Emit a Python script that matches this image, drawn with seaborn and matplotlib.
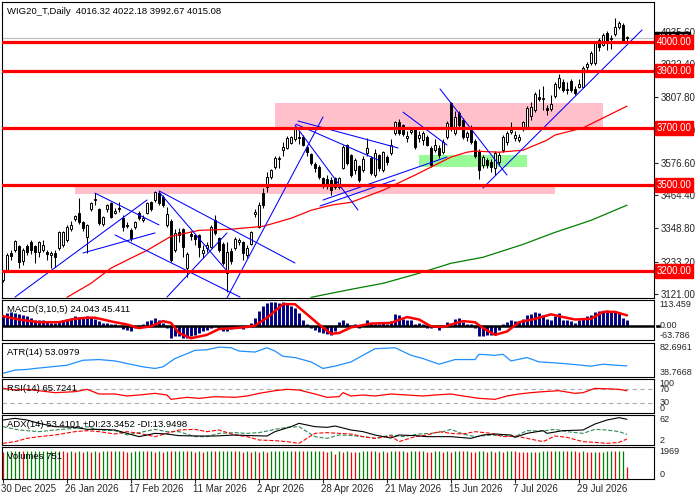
import numpy as np
import matplotlib
matplotlib.use("Agg")
import matplotlib.pyplot as plt
import seaborn as sns
from matplotlib.patches import Rectangle

title = "WIG20_T,Daily  4016.32 4022.18 3992.67 4015.08"

# daily candles, one per trading day
opens = [3170, 3202, 3262, 3272, 3286, 3236, 3286, 3300, 3286, 3265, 3272, 3267, 3255, 3262, 3280, 3290, 3307, 3345, 3381, 3402,
         3370, 3318, 3416, 3447, 3416, 3363, 3416, 3437, 3402, 3419, 3385, 3362, 3342, 3353, 3402, 3377, 3402, 3440, 3447, 3472,
         3458, 3360, 3374, 3272, 3335, 3346, 3210, 3328, 3325, 3325, 3262, 3280, 3283, 3377, 3315, 3293, 3192, 3270, 3280, 3300,
         3300, 3255, 3293, 3398, 3353, 3472, 3493, 3528, 3563, 3590, 3622, 3630, 3647, 3661, 3668, 3668, 3633, 3608, 3573, 3563,
         3524, 3520, 3517, 3524, 3493, 3560, 3640, 3605, 3552, 3566, 3552, 3612, 3595, 3535, 3605, 3552, 3598, 3612, 3682, 3720,
         3710, 3665, 3685, 3696, 3665, 3657, 3668, 3630, 3622, 3630, 3615, 3668, 3787, 3682, 3752, 3727, 3668, 3700, 3655, 3620,
         3570, 3587, 3580, 3560, 3580, 3622, 3650, 3685, 3665, 3657, 3700, 3700, 3742, 3762, 3808, 3800, 3770, 3766, 3811, 3843,
         3860, 3836, 3864, 3836, 3843, 3843, 3913, 3927, 3927, 4007, 3990, 4032, 4012, 4028, 4053, 4060, 4016.32]
highs = [3200, 3262, 3275, 3308, 3290, 3280, 3295, 3310, 3290, 3305, 3307, 3275, 3270, 3272, 3340, 3340, 3360, 3375, 3395, 3455,
         3375, 3365, 3440, 3472, 3420, 3392, 3435, 3440, 3420, 3440, 3395, 3370, 3350, 3375, 3410, 3395, 3440, 3445, 3480, 3478,
         3465, 3423, 3380, 3345, 3350, 3350, 3265, 3340, 3330, 3330, 3290, 3300, 3360, 3395, 3320, 3300, 3300, 3280, 3320, 3315,
         3305, 3290, 3340, 3415, 3440, 3490, 3545, 3555, 3600, 3600, 3650, 3670, 3672, 3705, 3690, 3675, 3640, 3612, 3580, 3570,
         3530, 3535, 3530, 3528, 3530, 3640, 3645, 3610, 3595, 3570, 3600, 3665, 3600, 3625, 3610, 3620, 3605, 3660, 3725, 3730,
         3715, 3690, 3700, 3700, 3690, 3690, 3675, 3635, 3660, 3640, 3660, 3725, 3790, 3760, 3760, 3735, 3690, 3710, 3660, 3625,
         3605, 3595, 3590, 3620, 3615, 3675, 3690, 3720, 3690, 3680, 3725, 3775, 3790, 3825, 3836, 3845, 3780, 3815, 3860, 3888,
         3870, 3860, 3870, 3845, 3870, 3915, 3930, 3970, 4000, 4015, 4030, 4040, 4025, 4085, 4075, 4065, 4022.18]
lows = [3160, 3195, 3240, 3268, 3210, 3220, 3255, 3260, 3227, 3250, 3265, 3240, 3210, 3215, 3275, 3285, 3300, 3340, 3375, 3365,
        3340, 3262, 3410, 3430, 3360, 3358, 3405, 3385, 3398, 3405, 3340, 3350, 3305, 3345, 3378, 3372, 3398, 3410, 3442, 3432,
        3425, 3355, 3232, 3268, 3300, 3248, 3178, 3310, 3290, 3250, 3245, 3265, 3280, 3325, 3265, 3220, 3125, 3225, 3275, 3290,
        3240, 3245, 3290, 3390, 3350, 3420, 3475, 3520, 3555, 3560, 3600, 3625, 3642, 3655, 3645, 3635, 3600, 3570, 3545, 3520,
        3490, 3485, 3465, 3485, 3485, 3555, 3570, 3530, 3540, 3510, 3545, 3600, 3535, 3530, 3550, 3545, 3570, 3605, 3675, 3675,
        3672, 3650, 3680, 3625, 3650, 3640, 3635, 3565, 3615, 3595, 3610, 3660, 3690, 3675, 3700, 3660, 3655, 3645, 3595, 3522,
        3560, 3560, 3545, 3535, 3570, 3615, 3640, 3680, 3655, 3650, 3690, 3695, 3727, 3755, 3795, 3762, 3745, 3760, 3805, 3835,
        3825, 3820, 3825, 3815, 3840, 3838, 3900, 3920, 3920, 3970, 3985, 3972, 3975, 4020, 4045, 4000, 3992.67]
closes = [3195, 3255, 3252, 3304, 3232, 3272, 3268, 3272, 3265, 3300, 3290, 3260, 3262, 3250, 3335, 3335, 3353, 3362, 3392, 3370,
          3350, 3360, 3437, 3452, 3367, 3388, 3430, 3388, 3410, 3416, 3353, 3358, 3315, 3370, 3384, 3384, 3437, 3416, 3475, 3437,
          3430, 3398, 3237, 3332, 3325, 3283, 3258, 3322, 3311, 3283, 3272, 3290, 3353, 3332, 3272, 3227, 3265, 3234, 3311, 3308,
          3262, 3280, 3335, 3405, 3430, 3430, 3528, 3552, 3595, 3595, 3633, 3665, 3668, 3700, 3665, 3640, 3615, 3577, 3560, 3528,
          3500, 3500, 3482, 3493, 3524, 3633, 3577, 3535, 3587, 3517, 3590, 3630, 3542, 3612, 3560, 3615, 3580, 3640, 3720, 3682,
          3678, 3672, 3692, 3633, 3675, 3682, 3640, 3570, 3640, 3605, 3650, 3717, 3700, 3738, 3710, 3668, 3682, 3650, 3600, 3552,
          3598, 3570, 3563, 3612, 3605, 3668, 3682, 3692, 3675, 3668, 3720, 3770, 3773, 3818, 3801, 3804, 3762, 3783, 3853, 3874,
          3832, 3832, 3832, 3822, 3853, 3910, 3923, 3962, 3997, 3983, 4025, 4000, 4015, 4053, 4067, 4005, 4015.08]
volumes = [1690, 1702, 1711, 1718, 1725, 1698, 1704, 1709, 1713, 1716, 1720, 1723, 1727, 1730, 1734, 1702, 1685, 1706, 1688, 1710,
           1692, 1708, 1681, 1704, 1690, 1701, 1715, 1693, 1705, 1719, 1697, 1680, 1692, 1703, 1712, 1721, 1699, 1710, 1687, 1706,
           1691, 1709, 1694, 1703, 1712, 1724, 1700, 1711, 1689, 1707, 1690, 1702, 1714, 1693, 1700, 1708, 1716, 1725, 1701, 1713,
           1692, 1709, 1688, 1704, 1690, 1706, 1686, 1697, 1704, 1711, 1717, 1722, 1728, 1703, 1712, 1694, 1701, 1708, 1715, 1722,
           1700, 1689, 1702, 1560, 1695, 1680, 1703, 1690, 1678, 1691, 1702, 1714, 1696, 1708, 1690, 1706, 1688, 1699, 1712, 1694,
           1707, 1689, 1700, 1713, 1695, 1709, 1692, 1681, 1694, 1706, 1690, 1704, 1687, 1698, 1711, 1693, 1706, 1691, 1679, 1693,
           1705, 1688, 1702, 1686, 1700, 1684, 1697, 1710, 1698, 1687, 1676, 1665, 1682, 1670, 1686, 1699, 1711, 1694, 1705, 1714,
           1722, 1700, 1711, 1695, 1683, 1698, 1686, 1674, 1690, 1678, 1692, 1704, 1715, 1697, 1708, 1719, 751]

# moving averages (read at a few bars)
red_ma_bar = [16, 22, 27, 32, 36, 42, 49, 57, 65, 72, 77, 82, 87, 95, 103, 112, 116, 118, 124, 130, 136, 138, 145, 156]
red_ma = [3108, 3157, 3210, 3245, 3272, 3321, 3342, 3346, 3356, 3384, 3412, 3430, 3440, 3482, 3535, 3598, 3615, 3619,
          3615, 3622, 3657, 3675, 3700, 3776]
green_ma_bar = [77, 87, 95, 103, 112, 120, 130, 138, 147, 156]
green_ma = [3108, 3136, 3157, 3188, 3227, 3248, 3293, 3335, 3377, 3430]

# horizontal levels, zones and trend lines
levels = [4000, 3900, 3700, 3500, 3200]
last_price = 4015.08
price_ticks = [4035.60, 3922.40, 3807.80, 3693.00, 3576.60, 3464.40, 3348.80, 3233.20, 3121.00]
zone_bar0 = [68, 18, 104]
zone_bar1 = [150, 138, 131]
zone_lo = [3700, 3470, 3563]
zone_hi = [3787, 3500, 3605]
trend_bar0 = [3, 23, 20, 28, 39, 39, 41, 56, 73.75, 73.25, 73, 80, 79.25, 100, 109.25, 120]
trend_px0 = [3109, 3472, 3263, 3326, 3480, 3476, 3109, 3106, 3724, 3713, 3710, 3448, 3427, 3755, 3836, 3490]
trend_bar1 = [36, 39, 38, 59.25, 73, 56.25, 56, 80, 98.75, 93.75, 88.75, 111, 98, 111, 126, 159.75]
trend_px1 = [3448, 3361, 3333, 3109, 3228, 3196, 3333, 3738, 3630, 3588, 3413, 3598, 3518, 3640, 3535, 4042]

# MACD(3,10,5)
macd_main = [42, 57, 61, 57, 50, 45, 42, 35, 27, 27, 24, 20, 12, 12, 15, 27, 30, 35, 42, 38,
             35, 42, 39, 30, 20, 12, 12, 9, 5, 0, -15, -18, -26, -11, -6, 5, 20, 27, 35, 24,
             12, -11, -56, -48, -48, -56, -56, -48, -41, -33, -26, -21, -11, -3, -15, -26, -26, -15, -6, -11,
             -15, -6, 12, 35, 65, 85, 98, 106, 103, 100, 103, 95, 88, 76, 57, 27, 9, -11, -21, -30,
             -33, -36, -41, -26, 15, 24, 12, 0, 9, -11, 9, 27, 12, 9, 9, 12, 5, 20, 50, 45,
             30, 27, 27, 9, 12, 5, -11, -11, -6, -18, -6, 15, 12, 30, 35, 15, 9, 5, -11, -48,
             -45, -41, -41, -41, -18, 9, 15, 24, 20, 15, 30, 45, 50, 61, 57, 45, 30, 27, 42, 54,
             27, 27, 20, 12, 27, 35, 42, 45, 61, 65, 65, 70, 65, 61, 57, 35, 24.043]
macd_sig_bar = [0, 4, 9, 14, 18, 21, 23, 28, 31, 34, 37, 40, 42, 44, 47, 51, 54, 58, 61, 63, 66, 70, 73, 76,
                79, 82, 84, 87, 92, 97, 101, 104, 107, 110, 115, 118, 120, 123, 126, 129, 133, 137, 140, 143,
                147, 150, 153, 156]
macd_sig = [42, 27, 15, 15, 30, 35, 35, 15, 5, -11, -3, 20, 12, -33, -56, -41, -15, -11, -6, 0, 35, 95, 95, 50,
            5, -36, -33, -8, 9, 12, 38, 27, -3, -6, 20, 15, -11, -41, -26, 15, 30, 50, 38, 27,
            30, 61, 61, 45.411]

# ATR(14)
atr_bar = [0, 3, 6, 8, 12, 16, 20, 24, 28, 31, 35, 38, 40, 43, 45, 48, 51, 54, 57, 59, 63, 66, 68, 70, 73,
           77, 80, 83, 87, 90, 93, 98, 102, 105, 109, 113, 118, 119, 123, 125, 127, 131, 134, 138, 142,
           147, 150, 153, 156]
atr = [43.5, 47.7, 48.6, 49.8, 51.9, 54.0, 60.4, 61.3, 59.5, 56.2, 51.9, 49.8, 51.9, 62.6, 66.8, 73.2, 74.0,
       77.4, 76.6, 72.3, 71.0, 76.6, 72.3, 65.5, 63.9, 58.3, 49.8, 52.8, 58.3, 66.8, 75.3, 76.6, 66.8, 62.6,
       55.3, 61.3, 61.3, 68.1, 66.8, 68.1, 59.5, 63.9, 58.3, 57.0, 55.3, 52.8, 55.3, 54.0, 53.0979]

# RSI(14)
rsi_bar = [0, 3, 6, 9, 13, 18, 21, 24, 28, 31, 34, 38, 41, 42, 46, 49, 53, 58, 61, 64, 68, 71, 74, 78, 81,
           84, 85, 87, 90, 93, 97, 101, 105, 108, 112, 115, 119, 123, 126, 129, 132, 135, 139, 143, 145,
           148, 152, 154, 156]
rsi = [72.5, 67.6, 69.6, 65.6, 59.8, 62.7, 69.6, 55.9, 55.9, 50.0, 52.9, 57.8, 52.9, 40.2, 46.1, 43.1, 48.0,
       46.1, 50.0, 57.8, 65.6, 69.6, 67.6, 55.9, 46.1, 48.0, 59.8, 50.0, 52.9, 50.0, 55.9, 52.9, 50.0, 52.9,
       55.9, 50.0, 43.1, 40.2, 50.0, 55.9, 59.8, 62.7, 65.6, 57.8, 59.8, 72.5, 70.6, 69.6, 65.7241]

# ADX(14) with +DI / -DI
adx_bar = [0, 3, 6, 9, 13, 18, 21, 24, 28, 31, 34, 38, 41, 44, 49, 53, 58, 62, 66, 68, 72, 74, 78, 81, 83,
           87, 90, 93, 97, 99, 103, 106, 112, 117, 120, 123, 127, 128, 131, 135, 136, 140, 145, 148, 151,
           154, 156]
adx = [52.0, 55.3, 52.0, 45.3, 38.7, 37.3, 33.3, 33.3, 32.0, 25.3, 18.7, 25.3, 24.0, 20.7, 20.0, 20.0, 22.0,
       20.7, 20.0, 28.7, 38.7, 45.3, 38.7, 37.3, 40.0, 32.0, 28.7, 22.0, 16.0, 22.0, 20.7, 18.7, 18.7, 15.3,
       22.0, 24.0, 22.0, 17.3, 25.3, 30.7, 25.3, 30.7, 32.0, 44.0, 52.0, 56.7, 53.4101]
pdi_bar = [0, 4, 9, 13, 18, 21, 24, 28, 31, 34, 38, 41, 44, 48, 51, 54, 58, 61, 64, 68, 71, 74, 78, 81, 84,
           87, 90, 93, 97, 100, 104, 107, 110, 112, 115, 118, 122, 125, 128, 131, 135, 138, 141, 145, 148,
           151, 154, 156]
pdi = [38.7, 32.0, 28.7, 32.0, 35.3, 38.7, 32.0, 30.7, 22.0, 26.7, 33.3, 28.7, 28.7, 18.7, 18.7, 25.3, 26.7,
       25.3, 26.7, 33.3, 37.3, 38.7, 18.7, 15.3, 22.0, 21.0, 18.7, 15.3, 22.0, 18.7, 24.0, 25.3, 28.7, 33.3,
       24.0, 18.7, 22.0, 20.7, 18.7, 30.7, 30.0, 33.3, 28.7, 25.3, 33.3, 32.0, 28.7, 23.3452]
mdi_bar = [0, 3, 6, 9, 13, 18, 21, 24, 28, 31, 34, 38, 41, 44, 48, 51, 54, 58, 61, 64, 68, 71, 74, 78, 81,
           84, 87, 90, 93, 97, 99, 103, 106, 109, 112, 115, 118, 122, 125, 128, 131, 135, 138, 141, 145,
           148, 151, 154, 156]
mdi = [5.3, 8.7, 15.3, 18.7, 22.0, 28.7, 30.7, 28.7, 24.0, 28.7, 25.3, 18.7, 25.3, 32.0, 33.3, 28.7, 32.0,
       22.0, 18.7, 12.0, 10.7, 8.7, 5.3, 25.3, 26.7, 25.3, 24.0, 18.7, 15.3, 20.0, 8.7, 18.7, 22.0, 28.7,
       25.3, 24.0, 28.7, 25.3, 18.7, 20.0, 15.3, 8.7, 20.0, 17.3, 8.7, 7.3, 5.3, 7.3, 13.9498]

date_bars = [0, 16, 32, 48, 64, 80, 96, 112, 128, 144]
date_labels = ["30 Dec 2025", "26 Jan 2026", "17 Feb 2026", "11 Mar 2026", "2 Apr 2026",
               "28 Apr 2026", "21 May 2026", "15 Jun 2026", "7 Jul 2026", "29 Jul 2026"]

sns.set_style("white")
plt.rcParams["font.family"] = ["Liberation Sans", "DejaVu Sans"]
FS = 6.5

fig = plt.figure(figsize=(7, 5), dpi=100, facecolor="white")


def pane(top, bottom):
    ax = fig.add_axes([2 / 700, 1 - bottom / 500, 652 / 700, (bottom - top) / 500])
    ax.set_xlim(-0.25, 162.75)
    ax.set_xticks([])
    ax.set_yticks([])
    for s in ax.spines.values():
        s.set_color("black")
        s.set_linewidth(0.8)
    return ax


def corner_label(ax, text):
    ax.annotate(text, xy=(0, 1), xycoords="axes fraction", xytext=(3.6, -6.5),
                textcoords="offset points", ha="left", va="center", fontsize=FS + 0.3, color="black")


def side_label(ax, value, text, va):
    ax.text(1.008, value, text, transform=ax.get_yaxis_transform(), ha="left", va=va,
            fontsize=FS, clip_on=False)


bars = np.arange(len(closes))
o = np.array(opens)
c = np.array(closes)

# ---- main price pane
ax = pane(2, 298)
ax.set_ylim(3105.7, 4139.7)
for b0, b1, lo, hi, col in zip(zone_bar0, zone_bar1, zone_lo, zone_hi, ["pink", "pink", "palegreen"]):
    ax.add_patch(Rectangle((b0, lo), b1 - b0, hi - lo, facecolor=col, edgecolor="none", zorder=1))
ax.axhline(last_price, color="#c0c0c0", lw=0.9, zorder=1.5)
ax.vlines(bars, lows, highs, color="black", lw=0.75, zorder=3)
up = c >= o
ax.bar(bars, np.abs(c - o), bottom=np.minimum(o, c), width=0.72,
       color=np.where(up, "white", "black"), edgecolor="black", linewidth=0.7, zorder=3.5)
sns.lineplot(x=red_ma_bar, y=red_ma, ax=ax, color="red", linewidth=0.9, zorder=4)
sns.lineplot(x=green_ma_bar, y=green_ma, ax=ax, color="green", linewidth=0.9, zorder=4)
for b0, p0, b1, p1 in zip(trend_bar0, trend_px0, trend_bar1, trend_px1):
    ax.plot([b0, b1], [p0, p1], color="blue", lw=0.75, zorder=5)
for lv in levels:
    ax.axhline(lv, color="red", lw=2.3, zorder=6)
    ax.text(1.004, lv, f"{lv:.2f}", transform=ax.get_yaxis_transform(), ha="left", va="center",
            color="white", fontsize=FS + 0.5, clip_on=False, zorder=8,
            bbox=dict(boxstyle="square,pad=0.18", fc="red", ec="red"))
ax.text(1.004, last_price, f"{last_price:.2f}", transform=ax.get_yaxis_transform(), ha="left",
        va="center", color="white", fontsize=FS, clip_on=False, zorder=7,
        bbox=dict(boxstyle="square,pad=0.15", fc="black", ec="black"))
ax.yaxis.tick_right()
ax.set_yticks(price_ticks)
ax.set_yticklabels([f"{v:.2f}" for v in price_ticks])
ax.tick_params(axis="y", right=True, length=3, width=0.8, labelsize=FS + 0.5, pad=2, direction="out")
ax.set_xlim(-0.25, 162.75)
ax.set_xlabel("")
ax.set_ylabel("")
corner_label(ax, title)

# ---- MACD
ax = pane(300, 340)
ax.vlines(bars, 0, macd_main, color="#000080", lw=2.1, capstyle="butt", zorder=2)
ax.axhline(0, color="black", lw=1.8, zorder=3)
sns.lineplot(x=macd_sig_bar, y=macd_sig, ax=ax, color="red", linewidth=1.8, zorder=4)
ax.set_ylim(-63.786, 113.459)
ax.set_xlim(-0.25, 162.75)
ax.set_xlabel("")
ax.set_ylabel("")
corner_label(ax, "MACD(3,10,5) 24.043 45.411")
side_label(ax, 113.459, "113.459", "top")
side_label(ax, 0, "0.00", "center")
side_label(ax, -63.786, "-63.786", "bottom")
ax.add_patch(Rectangle((1.002, -9), 0.009, 18, transform=ax.get_yaxis_transform(),
                       facecolor="black", clip_on=False))

# ---- ATR
ax = pane(343, 377)
sns.lineplot(x=atr_bar, y=atr, ax=ax, color="#1e90ff", linewidth=0.9)
ax.set_ylim(38.7668, 82.6961)
ax.set_xlim(-0.25, 162.75)
ax.set_xlabel("")
ax.set_ylabel("")
corner_label(ax, "ATR(14) 53.0979")
side_label(ax, 82.6961, "82.6961", "top")
side_label(ax, 38.7668, "38.7668", "bottom")

# ---- RSI
ax = pane(379, 413)
for lv in (70, 30):
    ax.axhline(lv, color="#b0b0b0", lw=0.8, ls=(0, (4, 3)))
sns.lineplot(x=rsi_bar, y=rsi, ax=ax, color="red", linewidth=0.9)
ax.set_ylim(0, 100)
ax.set_xlim(-0.25, 162.75)
ax.set_xlabel("")
ax.set_ylabel("")
corner_label(ax, "RSI(14) 65.7241")
side_label(ax, 100, "100", "top")
side_label(ax, 70, "70", "center")
side_label(ax, 30, "30", "center")
side_label(ax, 0, "0", "bottom")

# ---- ADX
ax = pane(415, 445)
sns.lineplot(x=pdi_bar, y=pdi, ax=ax, color="#2e8b57", linewidth=0.8, linestyle="--")
sns.lineplot(x=mdi_bar, y=mdi, ax=ax, color="red", linewidth=0.8, linestyle="--")
sns.lineplot(x=adx_bar, y=adx, ax=ax, color="black", linewidth=0.8)
ax.set_ylim(2, 62)
ax.set_xlim(-0.25, 162.75)
ax.set_xlabel("")
ax.set_ylabel("")
corner_label(ax, "ADX(14) 53.4101 +DI:23.3452 -DI:13.9498")
side_label(ax, 62, "62", "top")
side_label(ax, 2, "2", "bottom")

# ---- Volumes
ax = pane(447, 479)
vol = np.array(volumes)
vol_up = np.r_[False, vol[1:] > vol[:-1]]
ax.vlines(bars, 0, vol, colors=np.where(vol_up, "green", "red"), lw=0.9)
ax.set_ylim(0, 1969)
ax.set_xlim(-0.25, 162.75)
corner_label(ax, "Volumes 751")
side_label(ax, 1969, "1969", "top")
side_label(ax, 0, "0", "bottom")
ax.set_xticks(date_bars)
ax.set_xticklabels([])
ax.tick_params(axis="x", bottom=True, length=3, width=0.8, direction="out")
for b, lab in zip(date_bars, date_labels):
    ax.annotate(lab, xy=(b, 0), xycoords=("data", "axes fraction"), xytext=(-1.5, -3.5),
                textcoords="offset points", ha="left", va="top", fontsize=FS + 0.5)

fig.savefig("out.png", dpi=100, facecolor="white")
